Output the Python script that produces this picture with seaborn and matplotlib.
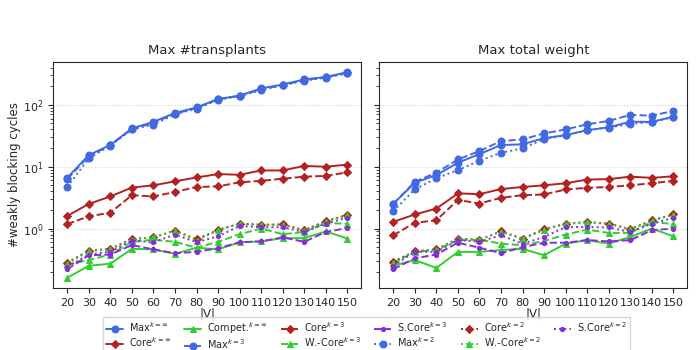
import matplotlib
matplotlib.use('Agg')
import matplotlib.pyplot as plt
import seaborn as sns

# |V| values
sizes = [20, 30, 40, 50, 60, 70, 80, 90, 100, 110, 120, 130, 140, 150]

# Max #transplants
max_inf_t = [6.6, 15.4, 22.4, 41.7, 53, 74, 91, 124, 141, 185, 213, 258, 282, 337]
max_3_t = [6.3, 14.8, 22.2, 40.5, 51, 72, 89, 123, 140, 178, 210, 250, 280, 330]
max_2_t = [4.7, 13.6, 22.0, 40, 48, 70, 87, 121, 139, 172, 208, 245, 276, 322]
core_inf_t = [1.6, 2.5, 3.3, 4.6, 5.0, 5.8, 6.7, 7.6, 7.4, 8.7, 8.7, 10.3, 10.0, 10.8]
core_3_t = [1.18, 1.58, 1.8, 3.46, 3.3, 3.9, 4.7, 4.8, 5.6, 5.9, 6.4, 6.9, 7.1, 8.1]
core_2_t = [0.28, 0.44, 0.47, 0.68, 0.72, 0.93, 0.67, 0.95, 1.2, 1.15, 1.17, 0.94, 1.32, 1.66]
wcore_2_t = [0.27, 0.43, 0.46, 0.66, 0.72, 0.92, 0.64, 0.94, 1.2, 1.15, 1.15, 0.93, 1.3, 1.65]
wcore_3_t = [0.26, 0.31, 0.38, 0.61, 0.66, 0.61, 0.49, 0.61, 0.81, 1.0, 0.81, 0.88, 1.22, 1.2]
compet_t = [0.16, 0.25, 0.27, 0.47, 0.46, 0.39, 0.49, 0.46, 0.6, 0.62, 0.7, 0.7, 0.9, 0.69]
score_3_t = [0.22, 0.37, 0.38, 0.54, 0.46, 0.40, 0.42, 0.48, 0.6, 0.62, 0.72, 0.61, 0.88, 1.02]
score_2_t = [0.24, 0.38, 0.42, 0.64, 0.6, 0.8, 0.6, 0.75, 1.1, 1.05, 1.05, 0.88, 1.2, 1.5]

# Max total weight
max_inf_w = [2.5, 5.5, 7.3, 11.6, 16, 22.4, 23, 29, 32.4, 39, 43.4, 53.5, 53, 64.5]
max_3_w = [2.5, 5.7, 8.0, 13.1, 17.9, 26, 27.6, 34.6, 40, 48.5, 55, 68.7, 67, 79.6]
max_2_w = [1.9, 4.3, 6.5, 8.8, 12.5, 16.8, 19.8, 28, 32, 39, 43, 49, 53, 63]
core_inf_w = [1.28, 1.69, 2.1, 3.7, 3.6, 4.35, 4.7, 5.0, 5.4, 6.2, 6.3, 6.9, 6.6, 7.0]
core_3_w = [0.78, 1.24, 1.36, 2.9, 2.54, 3.14, 3.46, 3.56, 4.28, 4.56, 4.7, 5.0, 5.4, 5.9]
core_2_w = [0.29, 0.43, 0.46, 0.69, 0.66, 0.9, 0.69, 0.975, 1.2, 1.28, 1.2, 0.98, 1.36, 1.69]
wcore_2_w = [0.28, 0.42, 0.45, 0.68, 0.66, 0.89, 0.67, 0.96, 1.19, 1.26, 1.19, 0.97, 1.34, 1.67]
wcore_3_w = [0.28, 0.42, 0.45, 0.65, 0.66, 0.57, 0.54, 0.63, 0.8, 0.96, 0.85, 0.85, 1.28, 1.18]
compet_w = [0.25, 0.31, 0.23, 0.42, 0.42, 0.45, 0.47, 0.37, 0.57, 0.65, 0.57, 0.73, 1.0, 0.75]
score_3_w = [0.22, 0.33, 0.38, 0.59, 0.49, 0.40, 0.5, 0.59, 0.59, 0.65, 0.62, 0.65, 0.94, 1.0]
score_2_w = [0.25, 0.42, 0.42, 0.65, 0.61, 0.78, 0.57, 0.73, 1.06, 1.06, 1.04, 0.88, 1.2, 1.49]

labels = [r'Max$^{k=\infty}$', r'Core$^{k=\infty}$', r'Compet.$^{k=\infty}$',
          r'Max$^{k=3}$', r'Core$^{k=3}$', r'W.-Core$^{k=3}$', r'S.Core$^{k=3}$',
          r'Max$^{k=2}$', r'Core$^{k=2}$', r'W.-Core$^{k=2}$', r'S.Core$^{k=2}$']

panel_t = [max_inf_t, core_inf_t, compet_t, max_3_t, core_3_t, wcore_3_t, score_3_t,
           max_2_t, core_2_t, wcore_2_t, score_2_t]
panel_w = [max_inf_w, core_inf_w, compet_w, max_3_w, core_3_w, wcore_3_w, score_3_w,
           max_2_w, core_2_w, wcore_2_w, score_2_w]

blue, red, green, purple = 'royalblue', 'firebrick', 'limegreen', 'blueviolet'
styles = [
    (blue, 'o', '-', 5), (red, 'D', '-', 4.5), (green, '^', '-', 5),
    (blue, 'o', '--', 5), (red, 'D', '--', 4.5), (green, '^', '--', 5), (purple, '.', '--', 6),
    (blue, 'o', ':', 5), (red, 'D', ':', 4.5), (green, '^', ':', 5), (purple, '.', ':', 6),
]

sns.set_style('ticks')
plt.rcParams['font.family'] = ['DejaVu Sans']

fig, axes = plt.subplots(1, 2, figsize=(7, 3.5), dpi=100, sharey=True)
fig.subplots_adjust(left=0.076, right=0.982, top=0.823, bottom=0.177, wspace=0.058)

for ax, series, title in zip(axes, [panel_t, panel_w], ['Max #transplants', 'Max total weight']):
    for vals, (c, m, ls, ms), lab in zip(series, styles, labels):
        sns.lineplot(x=sizes, y=vals, ax=ax, color=c, marker=m, linestyle=ls,
                     markersize=ms, markeredgecolor=c, linewidth=1.4, label=lab)
    ax.set_yscale('log')
    ax.set_xticks(sizes)
    ax.tick_params(labelsize=8)
    ax.set_title(title, fontsize=9.5)
    ax.set_xlabel('|V|', fontsize=8.5, labelpad=0)
    ax.yaxis.grid(True, which='major', linestyle=':', color='lightgrey', linewidth=0.8)
    ax.get_legend().remove()

axes[0].set_ylabel('#weakly blocking cycles', fontsize=8.5)
axes[0].yaxis.set_label_coords(-0.105, 0.5)

handles, labs = axes[0].get_legend_handles_labels()
fig.legend(handles, labs, ncol=6, loc='upper left', bbox_to_anchor=(0.147, 0.094),
           fontsize=7, handlelength=1.75, columnspacing=1.35, borderaxespad=0,
           labelspacing=0.1, handletextpad=0.6, borderpad=0.35, fancybox=False)

plt.savefig('out.png', dpi=100)
